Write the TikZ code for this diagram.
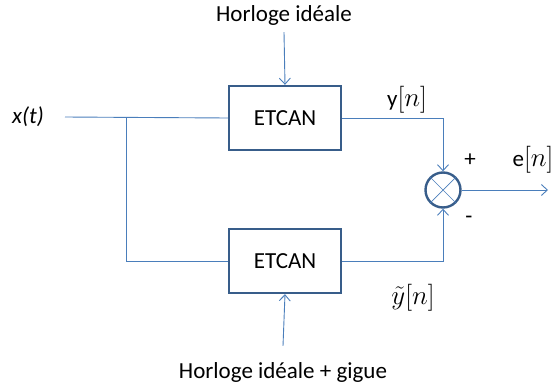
\documentclass[tikz,border=0pt]{standalone}
\usepackage{fix-cm}
\usepackage{fontspec}
\setmainfont{Carlito}
\usetikzlibrary{arrows.meta, positioning, calc}
\definecolor{wire}{RGB}{74,126,187}
\definecolor{frame}{RGB}{56,93,138}
\newcommand{\seq}[1]{{\fontsize{27}{30}\selectfont$#1$}}

\begin{document}
\begin{tikzpicture}[x=1pt, y=-1pt,
      font=\fontsize{23}{27}\selectfont,
      wire/.style={draw=wire, line width=0.9pt},
      arr/.style={wire, -{Straight Barb[length=6pt, width=11pt]}},
      adc/.style={rectangle, draw=frame, line width=2.4pt,
                  minimum width=112pt, minimum height=64pt, inner sep=0pt},
      mixer/.style={circle, draw=frame, line width=2.4pt,
                    minimum size=35pt, inner sep=0pt},
      lbl/.style={inner sep=0pt}
    ]
    \useasboundingbox (0,0) rectangle (554,388);
    % blocs
    \node[adc] (adcA) at (285,118) {ETCAN};
    \node[adc] (adcB) at (285,261) {ETCAN};
    \node[mixer] (mix) at (443,190) {};
    \draw[wire, line width=0.7pt] (mix.north west) -- (mix.south east)
                                  (mix.north east) -- (mix.south west);
    % textes
    \node[lbl] (xin) at (28,117) {\itshape x(t)};
    \node[lbl] (clkA) at (284,15) {Horloge idéale};
    \node[lbl] (clkB) at (283,372) {Horloge idéale + gigue};
    \node[lbl] (yA) at (407,100) {y\seq{[n]}};
    \node[lbl] (yB) at (413,298) {\seq{\tilde{y}[n]}};
    \node[lbl] (plus) at (470,160) {+};
    \node[lbl] (minus) at (469,220) {-};
    \node[lbl] (err) at (533,160) {e\seq{[n]}};
    \coordinate (in) at (65,117);
    \coordinate (split) at (126,117);
    \coordinate (out) at (548,190);
    % liaisons
    \draw[wire] (in) -- (adcA.west);
    \draw[wire] (split) |- (adcB.west);
    \draw[arr] ([yshift=-7pt]clkA.south) -- (adcA.north);
    \draw[arr] ([yshift=16pt]clkB.north) -- (adcB.south);
    \draw[arr] (adcA.east) -| (mix.north);
    \draw[arr] (adcB.east) -| (mix.south);
    \draw[arr] (mix.east) -- (out);
  \end{tikzpicture}
\end{document}
